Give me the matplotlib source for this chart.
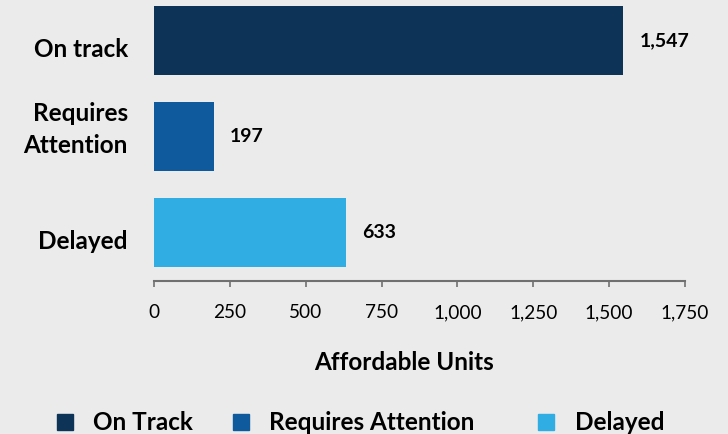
import matplotlib
matplotlib.use("Agg")
import matplotlib.pyplot as plt
import matplotlib.transforms as mtransforms
from matplotlib.patches import Rectangle
from matplotlib.ticker import FuncFormatter

categories = ["On track", "Requires\nAttention", "Delayed"]
legend_labels = ["On Track", "Requires Attention", "Delayed"]
values = [1547, 197, 633]
colors = ["#0d3357", "#0f5a9c", "#30ade3"]
xticks = [0, 250, 500, 750, 1000, 1250, 1500, 1750]

BG = "#ebebeb"
FONT = "Lato"

W, H = 728, 434
fig = plt.figure(figsize=(W / 100, H / 100), dpi=100, facecolor=BG)
ax = fig.add_axes([154 / W, (H - 281) / H, (685 - 154) / W, 281 / H])
ax.set_facecolor(BG)

ypos = list(range(len(values)))
ax.barh(ypos, values, height=0.719, color=colors)
ax.set_ylim(2.505, -0.422)
ax.set_xlim(0, 1750)

for y, v in zip(ypos, values):
    ax.annotate(f"{v:,}", xy=(v, y), xytext=(11.5, 0), textcoords="offset points",
                ha="left", va="center", fontsize=14, fontweight="bold",
                family=FONT, color="black")

# category labels (drawn as text so multi-line placement matches)
ax.set_yticks(ypos)
ax.set_yticklabels([])
ax.tick_params(axis="y", length=0)
base = mtransforms.blended_transform_factory(ax.transAxes, ax.transData)
tr = base + mtransforms.ScaledTranslation(-26 / 100, -16 / 100, fig.dpi_scale_trans)
for y, lab in zip(ypos, categories):
    ax.text(0, y, lab, transform=tr, ha="right", va="baseline", fontsize=17.5,
            fontweight="bold", family=FONT, linespacing=1.45, multialignment="right")

ax.set_xticks(xticks)
ax.xaxis.set_major_formatter(FuncFormatter(lambda x, p: f"{int(x):,}"))
for lab in ax.get_xticklabels():
    lab.set_family(FONT)
    lab.set_fontsize(13.7)
ax.tick_params(axis="x", length=4.5, width=1.2, color="#707070", pad=12)

for s in ["top", "right", "left"]:
    ax.spines[s].set_visible(False)
ax.spines["bottom"].set_color("#707070")
ax.spines["bottom"].set_linewidth(1.5)

ax.set_xlabel("Affordable Units", fontsize=17.5, fontweight="bold", family=FONT)
ax.xaxis.set_label_coords((404 - 154) / 531, -81 / 281)
ax.xaxis.label.set_va("center")

# legend
sq_x = [57, 233, 538]
tx_x = [93, 269, 575]
ly = 422
for sx, tx, c, lab in zip(sq_x, tx_x, colors, legend_labels):
    fig.patches.append(Rectangle((sx / W, (H - ly - 8) / H), 16 / W, 16 / H,
                                 transform=fig.transFigure, color=c))
    fig.text(tx / W, (H - ly) / H, lab, ha="left", va="center", fontsize=17.5,
             fontweight="bold", family=FONT)

fig.savefig("out.png", dpi=100, facecolor=BG)
